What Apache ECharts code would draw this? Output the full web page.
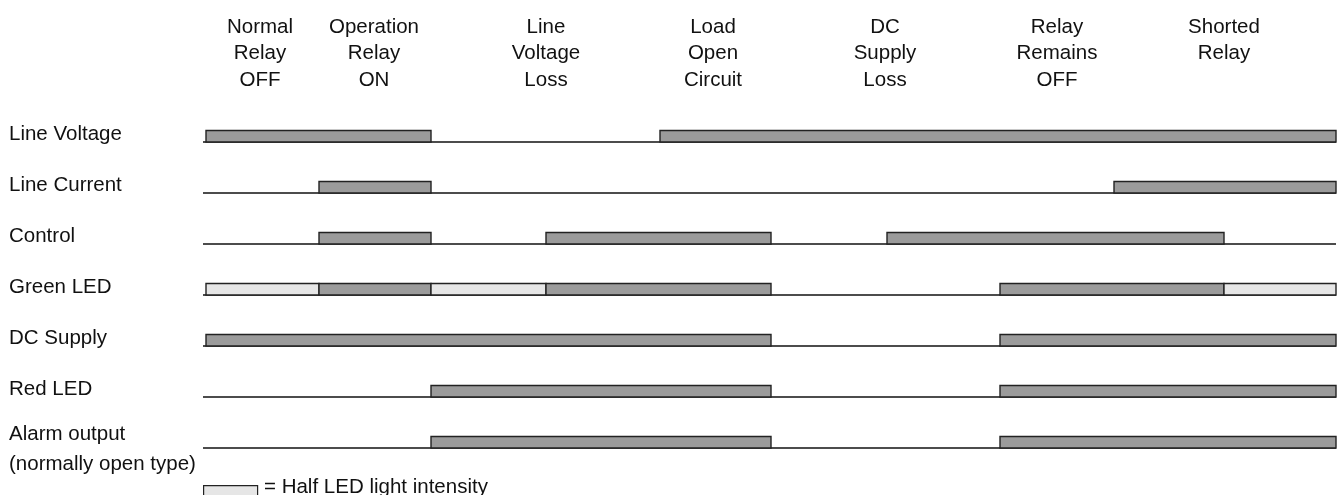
<!DOCTYPE html>
<html>
<head>
<meta charset="utf-8">
<script src="https://cdn.jsdelivr.net/npm/echarts@6/dist/echarts.min.js"></script>
<style>
html,body{margin:0;padding:0;background:#fff;}
#chart{width:1337px;height:495px;}
</style>
</head>
<body>
<div id="chart"></div>
<script>
// ---- data ----
const H = 0.5; // half LED intensity
const boundaries = [0, 113, 225, 340, 454, 565, 681, 794, 908, 1018, 1130];
const rowNames = ['Line Voltage', 'Line Current', 'Control', 'Green LED', 'DC Supply', 'Red LED', 'Alarm output\n(normally open type)'];
const lineVoltage = [1, 1, 0, 0, 1, 1, 1, 1, 1, 1];
const lineCurrent = [0, 1, 0, 0, 0, 0, 0, 0, 1, 1];
const control     = [0, 1, 0, 1, 1, 0, 1, 1, 1, 0];
const greenLED    = [H, 1, H, 1, 1, 0, 0, 1, 1, H];
const dcSupply    = [1, 1, 1, 1, 1, 0, 0, 1, 1, 1];
const redLED      = [0, 0, 1, 1, 1, 0, 0, 1, 1, 1];
const alarmOutput = [0, 0, 1, 1, 1, 0, 0, 1, 1, 1];
const headerLabels = ['Normal\nRelay\nOFF', 'Operation\nRelay\nON', 'Line\nVoltage\nLoss', 'Load\nOpen\nCircuit', 'DC\nSupply\nLoss', 'Relay\nRemains\nOFF', 'Shorted\nRelay'];
const headerX = [54, 168, 340, 507, 679, 851, 1018];
const legendText = '= Half LED light intensity';

const signals = [lineVoltage, lineCurrent, control, greenLED, dcSupply, redLED, alarmOutput];

// merge consecutive segments of equal state into runs
const runs = [];
signals.forEach((states, r) => {
  let i = 0;
  while (i < states.length) {
    let j = i;
    while (j + 1 < states.length && states[j + 1] === states[i]) j++;
    if (states[i] > 0) runs.push([boundaries[i], boundaries[j + 1], r, states[i]]);
    i = j + 1;
  }
});

const FONT = '"Liberation Sans", Arial, Helvetica, sans-serif';
const FS = 20.5;
const BAR_H = 11.5;
const xMin = -3, xMax = boundaries[boundaries.length - 1];

const chart = echarts.init(document.getElementById('chart'));
chart.setOption({
  animation: false,
  backgroundColor: '#fff',
  grid: { left: 203, right: 1, top: 142, bottom: 47 },
  xAxis: { type: 'value', min: xMin, max: xMax, show: false },
  yAxis: { type: 'value', min: 0, max: rowNames.length - 1, inverse: true, show: false },
  series: [
    {
      type: 'custom',
      name: 'baselines',
      data: rowNames.map((n, r) => [r]),
      renderItem: function (params, api) {
        const r = api.value(0);
        const p0 = api.coord([xMin, r]);
        const p1 = api.coord([xMax, r]);
        return { type: 'line', shape: { x1: p0[0], y1: p0[1], x2: p1[0], y2: p1[1] },
                 style: { stroke: '#111', lineWidth: 1.6 } };
      },
      z: 1
    },
    {
      type: 'custom',
      name: 'states',
      data: runs,
      renderItem: function (params, api) {
        const s = api.value(0), e = api.value(1), r = api.value(2), st = api.value(3);
        const p0 = api.coord([s, r]);
        const p1 = api.coord([e, r]);
        return { type: 'rect',
                 shape: { x: p0[0], y: p0[1] - BAR_H, width: p1[0] - p0[0], height: BAR_H },
                 style: { fill: st === 1 ? '#9b9b9b' : '#e6e6e6', stroke: '#222', lineWidth: 1.4 } };
      },
      z: 2
    },
    {
      type: 'custom',
      name: 'rowLabels',
      data: rowNames.map((n, r) => [r]),
      renderItem: function (params, api) {
        const r = api.value(0);
        const p = api.coord([xMin, r]);
        const name = rowNames[params.dataIndex];
        const multi = name.indexOf('\n') >= 0;
        return { type: 'text',
                 style: { x: 9, y: multi ? p[1] + 1.5 : p[1] - 8, text: name,
                          fill: '#111', font: FS + 'px ' + FONT, lineHeight: 30,
                          textAlign: 'left', textVerticalAlign: 'middle' } };
      },
      z: 3
    },
    {
      type: 'custom',
      name: 'headers',
      data: headerX.map(x => [x]),
      renderItem: function (params, api) {
        const p = api.coord([api.value(0), 0]);
        return { type: 'text',
                 style: { x: p[0], y: 14, text: headerLabels[params.dataIndex],
                          fill: '#111', font: FS + 'px ' + FONT, lineHeight: 26.5,
                          textAlign: 'center', textVerticalAlign: 'top' } };
      },
      z: 3
    }
  ],
  graphic: [
    { type: 'rect', left: 203, top: 485, shape: { width: 54, height: 14 },
      style: { fill: '#e6e6e6', stroke: '#222', lineWidth: 1.2 } },
    { type: 'text', left: 264, top: 477,
      style: { text: legendText, fill: '#111', font: FS + 'px ' + FONT } }
  ]
});
</script>
</body>
</html>
